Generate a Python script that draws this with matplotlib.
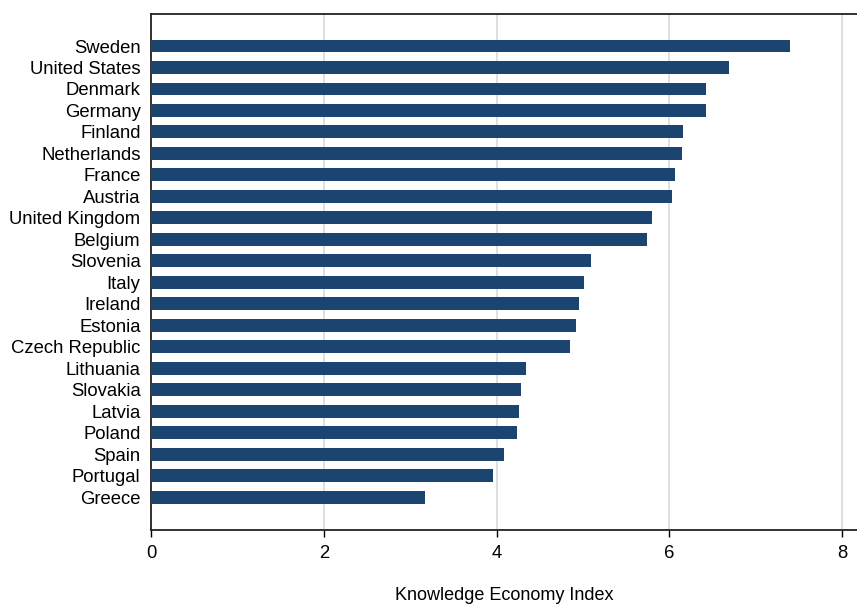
import matplotlib.pyplot as plt
import numpy as np

countries = [
    "Sweden", "United States", "Denmark", "Germany", "Finland", "Netherlands",
    "France", "Austria", "United Kingdom", "Belgium", "Slovenia", "Italy",
    "Ireland", "Estonia", "Czech Republic", "Lithuania", "Slovakia", "Latvia",
    "Poland", "Spain", "Portugal", "Greece",
]
kei = [
    7.40, 6.69, 6.42, 6.42, 6.16, 6.15,
    6.07, 6.03, 5.80, 5.74, 5.09, 5.01,
    4.95, 4.92, 4.85, 4.34, 4.28, 4.26,
    4.24, 4.08, 3.96, 3.17,
]
xticks = [0, 2, 4, 6, 8]

plt.rcParams['font.family'] = ['Liberation Sans', 'DejaVu Sans']

fig = plt.figure(figsize=(8.57, 6.06), dpi=100)
ax = fig.add_axes([151 / 857, 76 / 606, 1 - 151 / 857, (530 - 14) / 606])

y = np.arange(len(countries))
ax.barh(y, kei, height=0.6, color='#1b4570', zorder=3)

ax.set_yticks(y)
ax.set_yticklabels(countries, fontsize=13.3)
ax.set_ylim(len(countries) - 1 + 1.53, -1.49)
ax.tick_params(axis='y', length=0, pad=7.5)

ax.set_xlim(0, (857 - 151) / 86.4)
ax.set_xticks(xticks)
ax.set_xticklabels([str(t) for t in xticks], fontsize=13.3)
ax.tick_params(axis='x', length=5, width=1, pad=6)
ax.xaxis.grid(True, color='#d9d9d9', linewidth=1.2, zorder=0)
ax.set_xlabel("Knowledge Economy Index", fontsize=13, labelpad=18)

for side in ['left', 'bottom', 'top']:
    ax.spines[side].set_linewidth(1.3)
    ax.spines[side].set_color('#222222')
ax.spines['right'].set_visible(False)

fig.savefig('out.png', dpi=100, facecolor='white')
